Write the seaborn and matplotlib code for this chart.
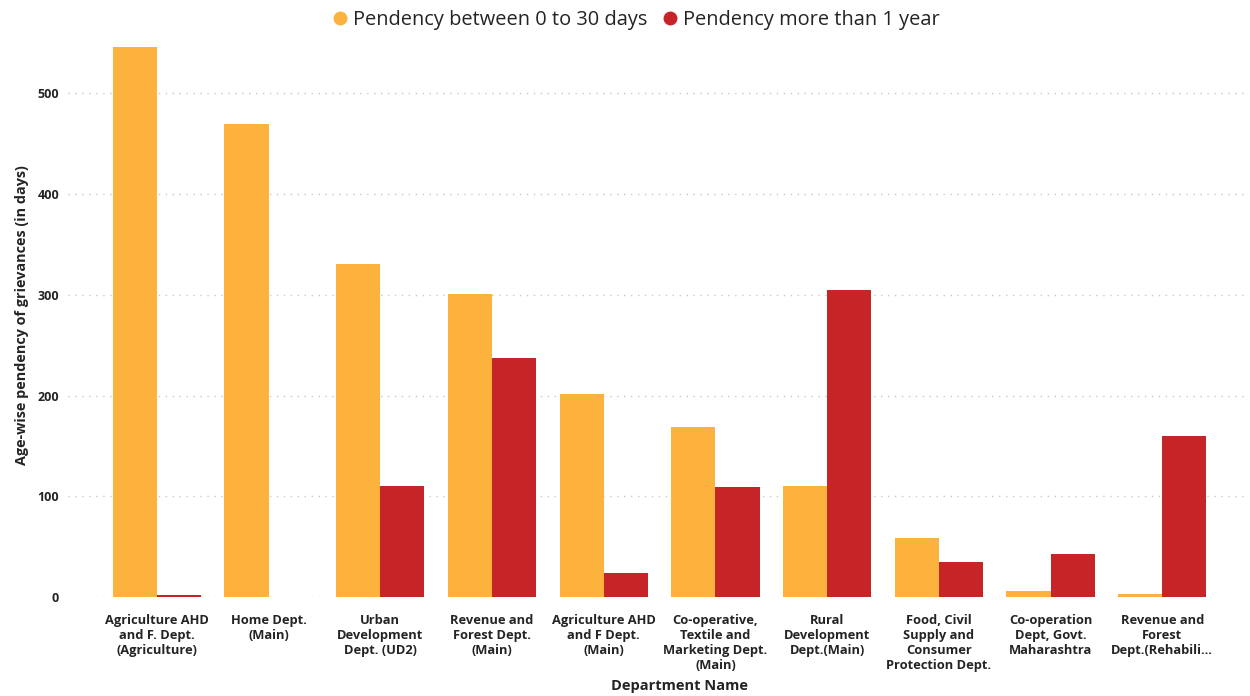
import matplotlib
matplotlib.use("Agg")
import matplotlib.pyplot as plt
from matplotlib.lines import Line2D
import seaborn as sns
import pandas as pd

departments = [
    "Agriculture AHD\nand F. Dept.\n(Agriculture)",
    "Home Dept.\n(Main)",
    "Urban\nDevelopment\nDept. (UD2)",
    "Revenue and\nForest Dept.\n(Main)",
    "Agriculture AHD\nand F Dept.\n(Main)",
    "Co-operative,\nTextile and\nMarketing Dept.\n(Main)",
    "Rural\nDevelopment\nDept.(Main)",
    "Food, Civil\nSupply and\nConsumer\nProtection Dept.",
    "Co-operation\nDept, Govt.\nMaharashtra",
    "Revenue and\nForest\nDept.(Rehabili…",
]
pending_0_30 = [546, 469, 331, 301, 202, 169, 110, 59, 6, 3]
pending_over_1y = [2, 0, 110, 237, 24, 109, 305, 35, 43, 160]
series_names = ["Pendency between 0 to 30 days", "Pendency more than 1 year"]
colors = ["#FDB23E", "#C72427"]

df = pd.DataFrame({
    "Department Name": departments * 2,
    "value": pending_0_30 + pending_over_1y,
    "series": [series_names[0]] * len(departments) + [series_names[1]] * len(departments),
})

sns.set_style("white")
plt.rcParams["font.family"] = ["Open Sans", "DejaVu Sans"]

fig = plt.figure(figsize=(12.5, 6.96), dpi=100)
ax = fig.add_axes([0.054, 0.142, 0.942, 0.811])

sns.barplot(data=df, x="Department Name", y="value", hue="series",
            palette=colors, width=0.79, saturation=1, ax=ax, legend=False,
            edgecolor="none")

ax.set_xlim(-0.8, 9.74)
ax.set_ylim(0, 560)
ax.set_yticks([0, 100, 200, 300, 400, 500])
ax.yaxis.grid(True, linestyle=(0, (1, 4)), color="#C8C8C8", linewidth=1)
ax.set_axisbelow(True)
for s in ax.spines.values():
    s.set_visible(False)
ax.tick_params(axis="both", length=0)
ax.tick_params(axis="y", pad=6)
for lab in ax.get_yticklabels():
    lab.set_fontsize(9)
    lab.set_fontweight("bold")
    lab.set_color("#252423")
ax.set_xticks(range(len(departments)))
ax.set_xticklabels(departments, fontsize=9.3, fontweight="bold", color="#252423",
                   linespacing=1.22)
ax.tick_params(axis="x", pad=12)

ax.set_ylabel("Age-wise pendency of grievances (in days)", fontsize=10.4,
              fontweight="bold", color="#252423")
ax.yaxis.set_label_coords(-0.033, 0.5)
ax.set_xlabel("Department Name", fontsize=10.5, fontweight="bold",
              color="#252423")
ax.xaxis.set_label_coords(0.52, -0.145)

handles = [Line2D([0], [0], marker="o", linestyle="none", markersize=9,
                  markerfacecolor=c, markeredgecolor=c) for c in colors]
fig.legend(handles, series_names, loc="upper center", bbox_to_anchor=(0.504, 1.012),
           ncol=2, frameon=False, fontsize=14.4, handletextpad=-0.35,
           columnspacing=0.1, labelcolor="#252423")

fig.savefig("out.png", dpi=100)
